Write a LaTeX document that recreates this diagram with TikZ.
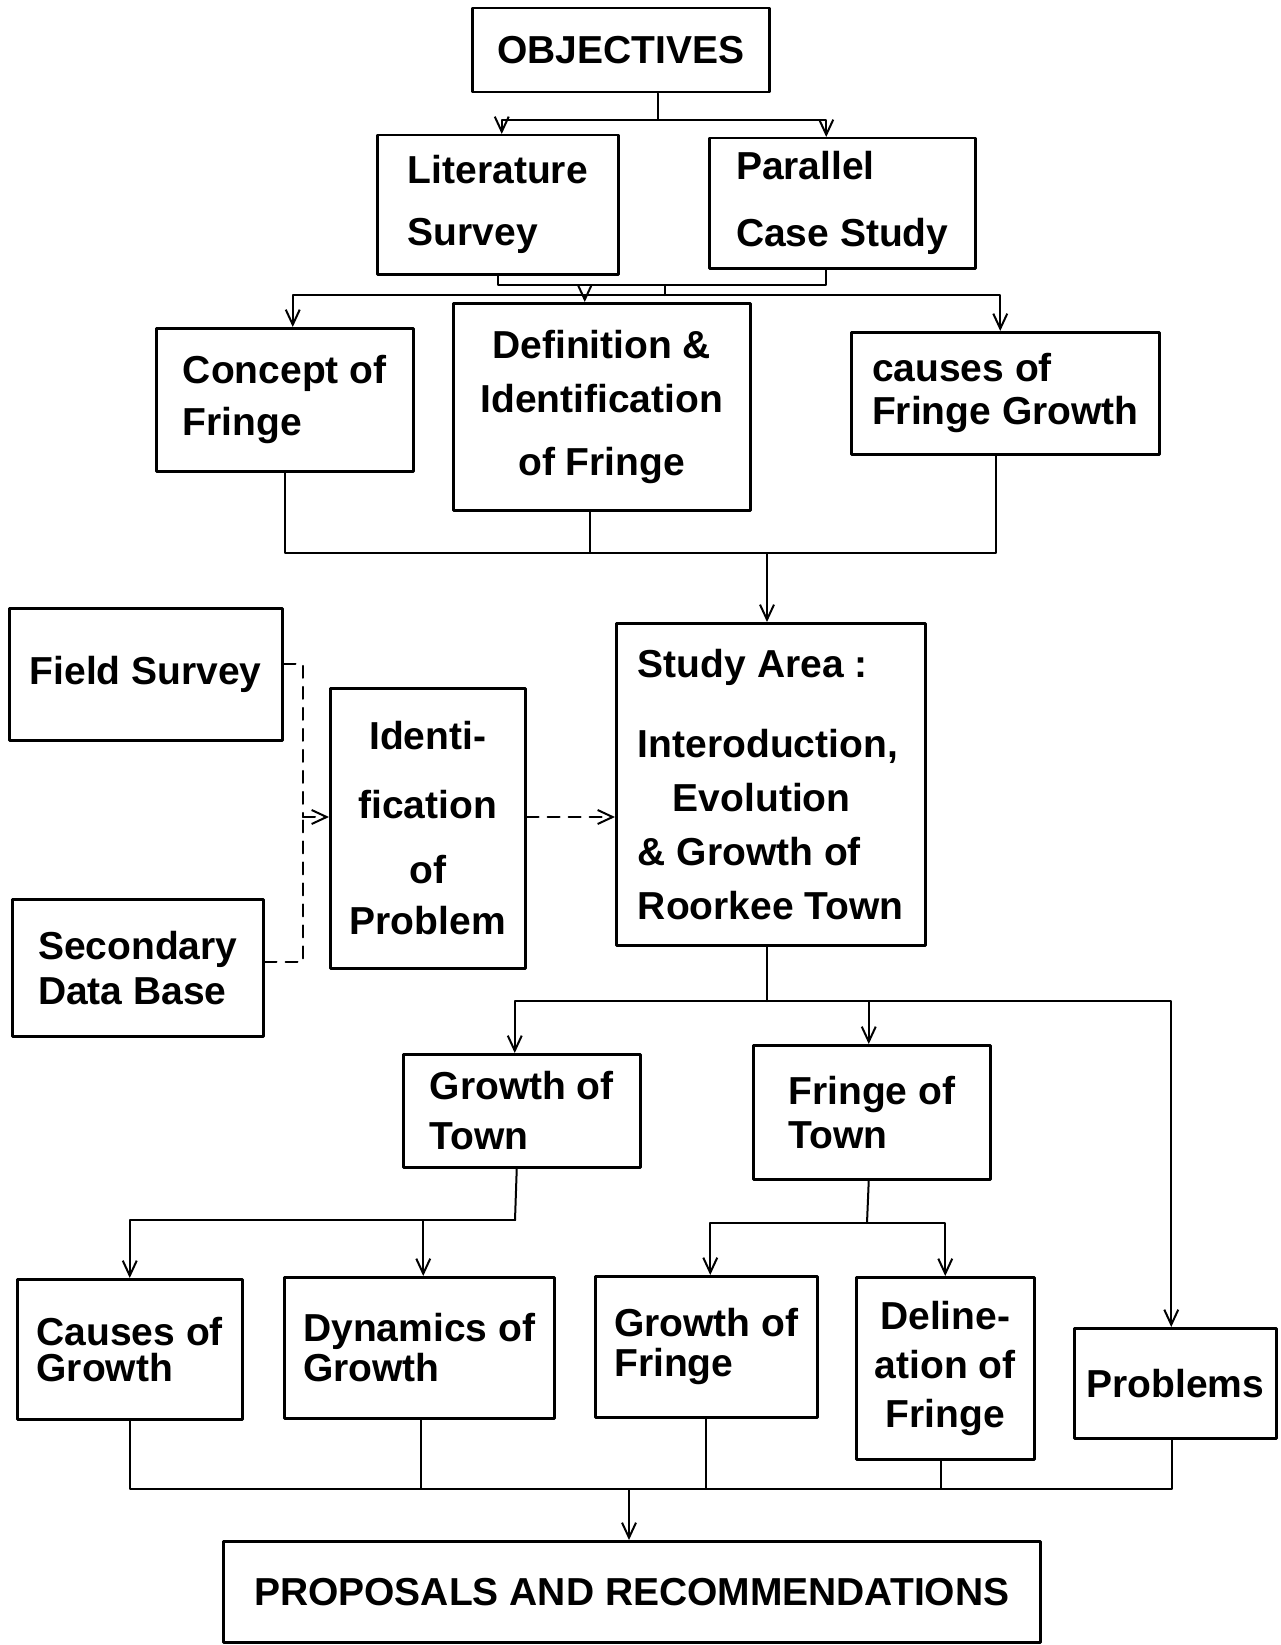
\documentclass[tikz,border=0pt]{standalone}
\usepackage{fontspec}
\setmainfont{Liberation Sans}
\usetikzlibrary{arrows.meta}

\tikzset{
  box/.style={draw, line width=2.5pt, inner sep=0pt, anchor=north west, align=left},
  lsk/.style={font=\fontsize{39}{#1}\selectfont\bfseries},
  arr/.style={-{Straight Barb[length=15pt,width=14pt]}},
  dsh/.style={dash pattern=on 12pt off 9pt},
}

\begin{document}
\begin{tikzpicture}[x=1pt, y=-1pt, line width=2pt, line cap=round, line join=round]
  \useasboundingbox (0,0) rectangle (1280,1645);

  % boxes
  \node[box, lsk=54, align=center, minimum width=297pt, minimum height=84pt] (obj) at (471,7) {OBJECTIVES};
  \node[box, lsk=62, minimum width=241pt, minimum height=139pt] (lit) at (376,134) {Literature\\Survey};
  \node[box, lsk=67, minimum width=266pt, minimum height=130pt] (par) at (708,137) {Parallel\\Case Study};
  \node[box, lsk=52, minimum width=257pt, minimum height=143pt] (con) at (155,327) {Concept of\\Fringe};
  \node[box, lsk=54, align=center, minimum width=297pt, minimum height=207pt] (def) at (452,302) {Definition \&\\Identification\\[9pt]of Fringe};
  \node[box, lsk=43, minimum width=308pt, minimum height=122pt] (cau) at (850,331) {causes of\\Fringe Growth};
  \node[box, lsk=54, minimum width=273pt, minimum height=132pt] (fld) at (8,607) {Field Survey};
  \node[box, lsk=51, align=center, minimum width=195pt, minimum height=280pt] (idp) at (329,687) {Identi-\\[18pt]fication\\[14pt]of\\Problem};
  \node[box, lsk=54, minimum width=309pt, minimum height=322pt] (stu) at (615,622) {Study Area :\\[26pt]Interoduction,\\\hspace*{35pt}Evolution\\\& Growth of\\Roorkee Town};
  \node[box, lsk=45, minimum width=251pt, minimum height=137pt] (sec) at (11,898) {Secondary\\Data Base};
  \node[box, lsk=50, minimum width=237pt, minimum height=113pt] (gtn) at (402,1053) {Growth of\\Town};
  \node[box, lsk=44, minimum width=237pt, minimum height=134pt] (ftn) at (752,1044) {Fringe of\\Town};
  \node[box, lsk=36, minimum width=225pt, minimum height=140pt] (cog) at (16,1278) {Causes of\\Growth};
  \node[box, lsk=40, minimum width=270pt, minimum height=141pt] (dyn) at (283,1276) {Dynamics of\\Growth};
  \node[box, lsk=40, minimum width=222pt, minimum height=141pt] (gof) at (594,1275) {Growth of\\Fringe};
  \node[box, lsk=49, align=center, minimum width=178pt, minimum height=182pt] (del) at (855,1276) {Deline-\\ation of\\Fringe};
  \node[box, lsk=54, align=center, minimum width=202pt, minimum height=110pt] (prb) at (1073,1327) {Problems};
  \node[box, lsk=54, align=center, minimum width=817pt, minimum height=101pt] (pro) at (222,1540) {PROPOSALS AND RECOMMENDATIONS};

  % objectives to surveys
  \coordinate (c1) at (658,120);
  \draw (obj.south -| c1) -- (c1);
  \draw[arr] (c1) -| ([xshift=4pt]lit.north);
  \draw[arr] (c1) -| ([xshift=-16pt]par.north);

  % surveys to concept, definition, causes
  \coordinate (c2) at (665,285);
  \coordinate (c3) at (665,295);
  \draw (lit.south) |- (c2) -| ([xshift=-16pt]par.south);
  \draw (c2) -- (c3);
  \draw[arr] (c3) -| ([xshift=8pt]con.north);
  \draw[arr] (c3) -| ([xshift=-17pt]def.north);
  \draw[arr] (c3) -| ([xshift=-5pt]cau.north);

  % into study area
  \coordinate (c4) at (767,553);
  \draw (con.south) |- (c4);
  \draw ([xshift=-12pt]def.south) |- (c4);
  \draw ([xshift=-9pt]cau.south) |- (c4);
  \draw[arr] (c4) -- (stu.north -| c4);

  % field survey and data base
  \coordinate (c5) at (303,817);
  \draw[dsh] ([yshift=10pt]fld.east) -| (c5);
  \draw[dsh] ([yshift=6pt]sec.east) -| (c5);
  \draw[dsh, arr] (c5) -- (idp.west |- c5);
  \draw[dsh, arr] (idp.east |- c5) -- (stu.west |- c5);

  % study area to town
  \coordinate (c6) at (767,1001);
  \draw (stu.south -| c6) -- (c6);
  \draw[arr] (c6) -| ([xshift=-7pt]gtn.north);
  \draw[arr] (c6) -| ([xshift=-3pt]ftn.north);
  \draw[arr] (c6) -| ([xshift=-4pt]prb.north);

  \coordinate (c7) at (515,1220);
  \draw ([xshift=-5pt]gtn.south) -- (c7);
  \draw[arr] (c7) -| (cog.north);
  \draw[arr] (c7) -| ([xshift=4pt]dyn.north);

  \coordinate (c8) at (867,1223);
  \draw ([xshift=-3pt]ftn.south) -- (c8);
  \draw[arr] (c8) -| ([xshift=4pt]gof.north);
  \draw[arr] (c8) -| (del.north);

  % to proposals
  \coordinate (c9) at (629,1489);
  \draw (cog.south) |- (c9);
  \draw ([xshift=2pt]dyn.south) |- (c9);
  \draw (gof.south) |- (c9);
  \draw ([xshift=-4pt]del.south) |- (c9);
  \draw ([xshift=-3pt]prb.south) |- (c9);
  \draw[arr] (c9) -- (pro.north -| c9);
\end{tikzpicture}
\end{document}
